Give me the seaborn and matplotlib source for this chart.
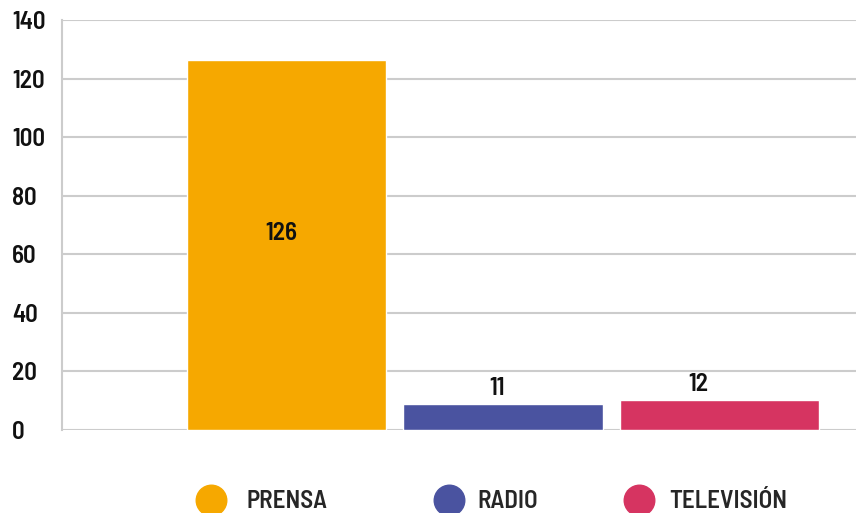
import matplotlib
matplotlib.use("Agg")
import matplotlib.pyplot as plt
from matplotlib.lines import Line2D
import seaborn as sns
import pandas as pd

categories = ["PRENSA", "RADIO", "TELEVISIÓN"]
bar_heights = [126.3, 9.0, 10.3]
value_labels = ["126", "11", "12"]
colors = ["#F6A800", "#4A53A0", "#D63461"]
y_ticks = [0, 20, 40, 60, 80, 100, 120, 140]

sns.set_theme(style="white")
plt.rcParams["font.family"] = ["Barlow Semi Condensed", "Roboto Condensed", "Roboto", "DejaVu Sans"]
FS = 18
WT = 600

df = pd.DataFrame({"cat": categories, "val": bar_heights})

fig = plt.figure(figsize=(8.56, 5.13), dpi=100)
ax = fig.add_axes([62/856, (513-430)/513, 1 - 62/856, 410/513])

sns.barplot(data=df, x="cat", y="val", hue="cat", palette=colors, order=categories,
            hue_order=categories, width=0.92, legend=False, ax=ax, saturation=1)

ax.set_xlim(-1.037, 2.63)
ax.set_ylim(0, 140)
ax.set_yticks(y_ticks)
ax.set_xticks([])
ax.set_xlabel("")
ax.set_ylabel("")
ax.grid(axis="y", color="#CCCCCC", linewidth=1.5)
ax.set_axisbelow(True)
for s in ["top", "right", "bottom"]:
    ax.spines[s].set_visible(False)
ax.spines["left"].set_color("#CCCCCC")
ax.spines["left"].set_linewidth(1.5)
ax.tick_params(axis="y", length=0, pad=36, labelsize=FS, labelcolor="#111111")
for lab in ax.get_yticklabels():
    lab.set_horizontalalignment("left")
    lab.set_fontweight(WT)

# value labels
label_dx = [-0.025, -0.03, -0.10]
for i, (h, lab) in enumerate(zip(bar_heights, value_labels)):
    if i == 0:
        ax.text(i + label_dx[i], h * 0.53, lab, ha="center", va="center", fontsize=FS,
                fontweight=WT, color="#111111")
    else:
        ax.annotate(lab, (i + label_dx[i], h), xytext=(0, 11), textcoords="offset points",
                    ha="center", va="center", fontsize=FS, fontweight=WT, color="#111111")

# legend entries, one per category
legend_x = [198/856, 436/856, 626/856]
text_pads = [0.95, 0.67, 0.71]
for c, name, lx, tp in zip(colors, categories, legend_x, text_pads):
    h = Line2D([0], [0], marker="o", linestyle="", markersize=22, markerfacecolor=c,
               markeredgecolor=c)
    fig.legend([h], [name], loc="center left", bbox_to_anchor=(lx, 11/513),
               frameon=False, handletextpad=tp, handlelength=1.0, borderpad=0,
               borderaxespad=0, prop={"weight": WT, "size": FS})

fig.savefig("out.png", dpi=100)
